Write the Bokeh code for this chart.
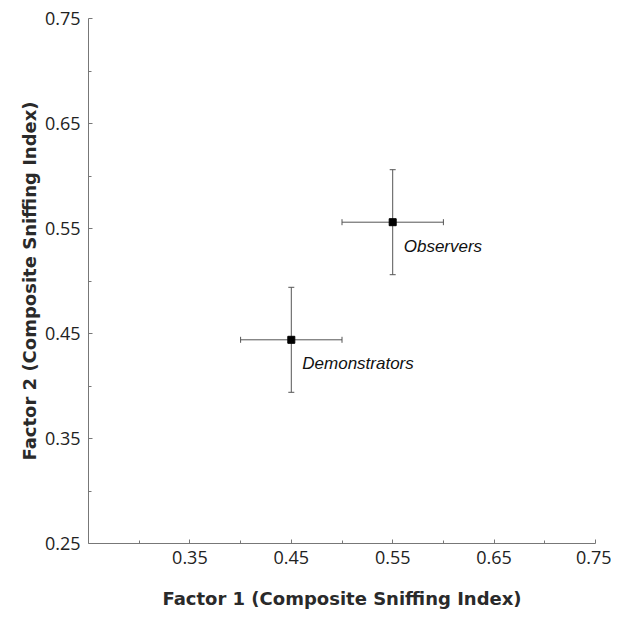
from bokeh.plotting import figure
from bokeh.models import FixedTicker, PrintfTickFormatter, Whisker, ColumnDataSource, TeeHead
from bokeh.core.properties import value
from bokeh.embed import file_html
from bokeh.resources import INLINE

groups = ["Observers", "Demonstrators"]
factor1 = [0.55, 0.45]
factor2 = [0.556, 0.444]
err1 = [0.05, 0.05]
err2 = [0.05, 0.05]

x_ticks = [0.35, 0.45, 0.55, 0.65, 0.75]
x_minor = [0.30, 0.40, 0.50, 0.60, 0.70]
y_ticks = [0.25, 0.35, 0.45, 0.55, 0.65, 0.75]
y_minor = [0.30, 0.40, 0.50, 0.60, 0.70]

src = ColumnDataSource(dict(
    x=factor1, y=factor2,
    xl=[a - e for a, e in zip(factor1, err1)], xu=[a + e for a, e in zip(factor1, err1)],
    yl=[a - e for a, e in zip(factor2, err2)], yu=[a + e for a, e in zip(factor2, err2)],
    name=groups,
))

p = figure(width=611, height=612, output_backend="svg", toolbar_location=None,
           x_range=(0.25, 0.75), y_range=(0.25, 0.75),
           min_border_left=88, min_border_right=16, min_border_top=18, min_border_bottom=69)
p.outline_line_color = None
p.grid.visible = False

axcol = "#777777"
for ax in (p.xaxis[0], p.yaxis[0]):
    ax.axis_line_color = axcol
    ax.major_tick_line_color = axcol
    ax.minor_tick_line_color = axcol
    ax.major_tick_in = 4
    ax.major_tick_out = 0
    ax.minor_tick_in = 3
    ax.minor_tick_out = 0
    ax.formatter = PrintfTickFormatter(format="%.2f")
    ax.major_label_text_font = "Open Sans"
    ax.major_label_text_font_size = "18px"
    ax.major_label_text_color = "#222222"
    ax.axis_label_text_font = "DejaVu Sans"
    ax.axis_label_text_font_size = "18px"
    ax.axis_label_text_font_style = "bold"
    ax.axis_label_text_color = "#2a2a2a"

p.xaxis.ticker = FixedTicker(ticks=x_ticks, minor_ticks=x_minor)
p.yaxis.ticker = FixedTicker(ticks=y_ticks, minor_ticks=y_minor)
p.xaxis.major_label_standoff = 7
p.yaxis.major_label_standoff = 8
p.xaxis.axis_label = "Factor 1 (Composite Sniffing Index)"
p.yaxis.axis_label = "Factor 2 (Composite Sniffing Index)"
p.xaxis.axis_label_standoff = 21
p.yaxis.axis_label_standoff = 2

ecol = "#555555"
wx = Whisker(source=src, base="y", lower="xl", upper="xu", dimension="width",
             line_color=ecol, line_width=1,
             lower_head=TeeHead(size=6, line_color=ecol), upper_head=TeeHead(size=6, line_color=ecol))
wy = Whisker(source=src, base="x", lower="yl", upper="yu", dimension="height",
             line_color=ecol, line_width=1,
             lower_head=TeeHead(size=6, line_color=ecol), upper_head=TeeHead(size=6, line_color=ecol))
p.add_layout(wx)
p.add_layout(wy)

p.scatter("x", "y", source=src, marker="square", size=7, color="black")
p.text("x", "y", text="name", source=src, x_offset=11, y_offset=24,
       text_font=value("Liberation Sans"), text_font_style="italic",
       text_font_size="17px", text_color="#111111", text_baseline="middle", text_align="left")

open("out.html", "w").write(file_html(p, INLINE))
